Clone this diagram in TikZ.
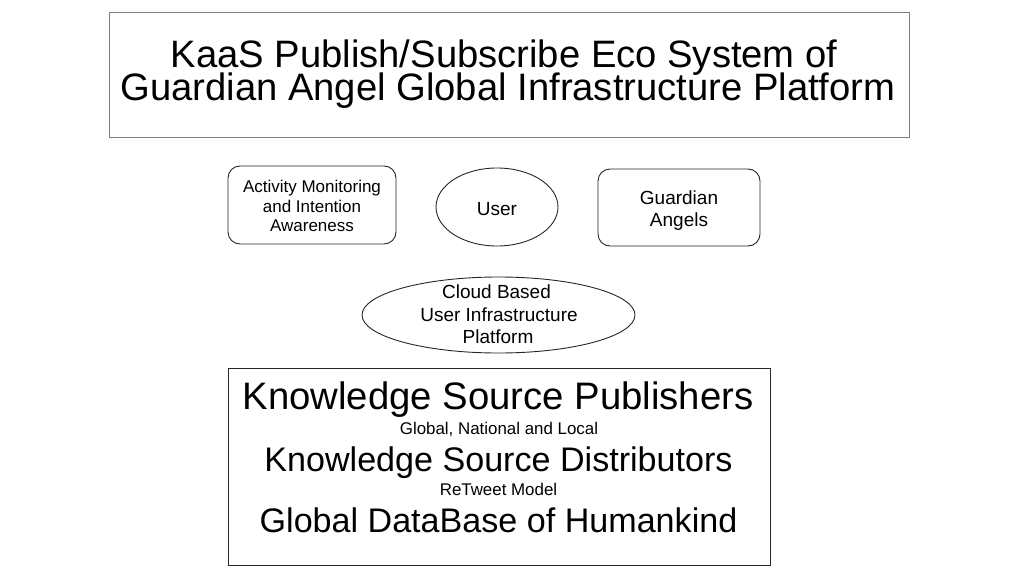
\documentclass[tikz,border=0pt]{standalone}
\usepackage{fontspec}
\setmainfont{Liberation Sans}
\usetikzlibrary{shapes.geometric}
\begin{document}
\begin{tikzpicture}[x=1pt,y=-1pt,
  shapeline/.style={draw=black!85,line width=0.9pt,inner sep=0pt},
  boxshape/.style={shapeline,rectangle,rounded corners=12pt},
  ellshape/.style={shapeline,ellipse},
  txt/.style={inner sep=0pt,anchor=base,text=black},
  bigfont/.style={font=\fontsize{38.2}{33}\selectfont},
  midfont/.style={font=\fontsize{34.1}{40}\selectfont},
  smallfont/.style={font=\fontsize{16.9}{20}\selectfont},
  labfont/.style={font=\fontsize{19}{23}\selectfont}]
\useasboundingbox (0,0) rectangle (1024,575);
% title
\node[draw=black!50,line width=0.9pt,rectangle,minimum width=800pt,minimum height=125pt] (title) at (509,74.5) {};
\node[txt,bigfont] (title1) at (504,67.7) {KaaS Publish/Subscribe Eco System of};
\node[txt,bigfont] (title2) at (508,100) {Guardian Angel Global Infrastructure Platform};
% middle row
\node[boxshape,minimum width=168pt,minimum height=78pt] (act) at (312,205) {};
\node[txt,font=\fontsize{17}{20}\selectfont] (act1) at (312,192.3) {Activity Monitoring};
\node[txt,font=\fontsize{17}{20}\selectfont] (act2) at (312,212.2) {and Intention};
\node[txt,font=\fontsize{17}{20}\selectfont] (act3) at (312,231.8) {Awareness};
\node[ellshape,minimum width=122pt,minimum height=78pt] (user) at (497,207) {};
\node[txt,labfont] (usertxt) at (497,215) {User};
\node[boxshape,minimum width=162pt,minimum height=77pt] (ga) at (679,207.5) {};
\node[txt,labfont] (ga1) at (679,204) {Guardian};
\node[txt,labfont] (ga2) at (679,226.7) {Angels};
\node[ellshape,minimum width=273pt,minimum height=76pt] (cloud) at (498.5,315) {};
\node[txt,labfont] (cloud1) at (496.5,298.3) {Cloud Based};
\node[txt,labfont] (cloud2) at (499,321.3) {User Infrastructure};
\node[txt,labfont] (cloud3) at (498,343.5) {Platform};
% bottom box
\node[shapeline,rectangle,minimum width=542pt,minimum height=197pt] (ks) at (499,466.5) {};
\node[txt,font=\fontsize{38.3}{40}\selectfont] (pub) at (498,409.3) {Knowledge Source Publishers};
\node[txt,smallfont] (glob) at (499,434) {Global, National and Local};
\node[txt,midfont] (dist) at (498.5,471) {Knowledge Source Distributors};
\node[txt,smallfont] (rt) at (498.5,495.7) {ReTweet Model};
\node[txt,midfont] (gdb) at (498.5,532.3) {Global DataBase of Humankind};
\end{tikzpicture}
\end{document}
